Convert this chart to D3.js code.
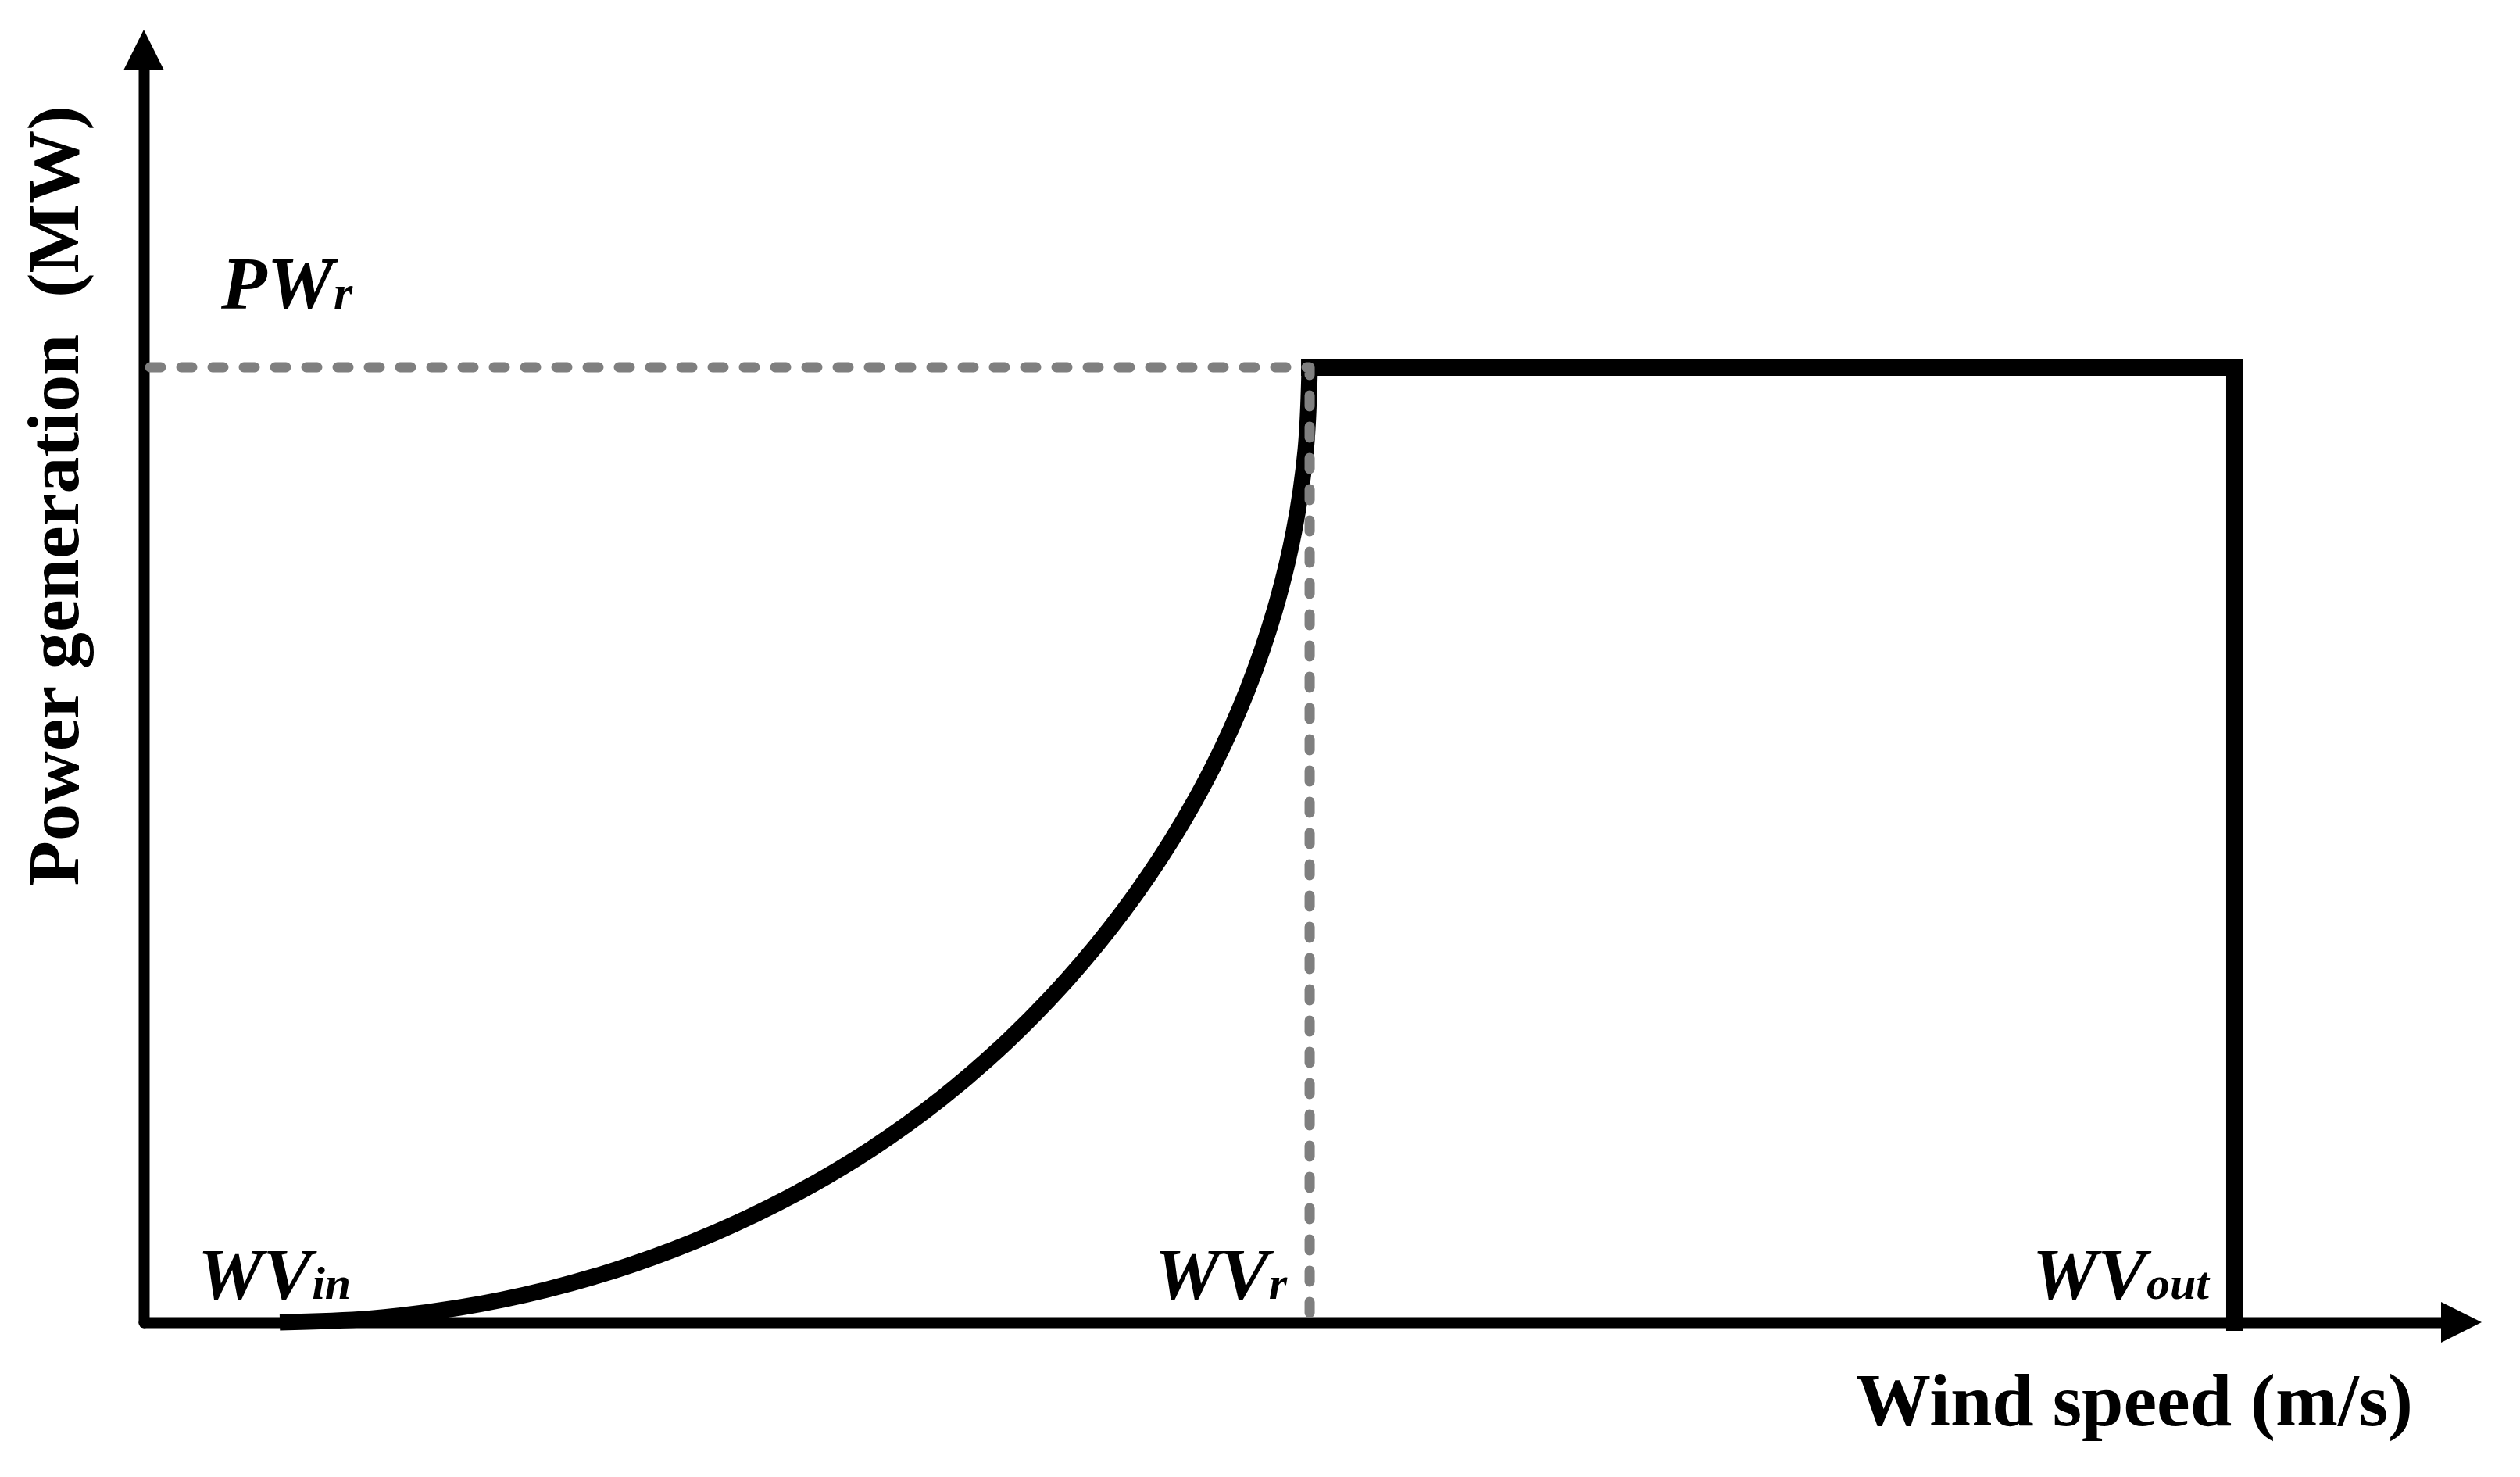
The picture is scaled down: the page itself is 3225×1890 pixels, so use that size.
<!DOCTYPE html>
<html>
<head>
<meta charset="utf-8">
<script src="https://cdn.jsdelivr.net/npm/d3@7"></script>
<style>
  html, body { margin: 0; padding: 0; background: #ffffff; }
  svg { display: block; }
  text { font-family: "Liberation Serif", "Times New Roman", serif; fill: #000; }
</style>
</head>
<body>
<svg id="chart" width="3225" height="1890"></svg>
<script>
// ---- data (relative units, 0-100 on each axis) ----
const windSpeed = [5.92, 9.83, 13.70, 17.52, 21.25, 24.86, 28.33, 31.63, 34.73, 37.62, 40.26, 42.64, 44.74, 46.55, 48.04, 49.22, 50.07, 50.58, 50.75];
const powerOut  = [0.00, 0.29, 1.16, 2.60, 4.60, 7.15, 10.22, 13.80, 17.90, 22.50, 27.50, 32.85, 38.50, 44.40, 50.50, 56.80, 63.20, 69.70, 76.28];
const speedMarks = [5.92, 50.75, 91.02];           // WVin, WVr, WVout
const speedNames = [["WV", "in"], ["WV", "r"], ["WV", "out"]];
const ratedPower = 76.28;                          // PWr
const powerName = ["PW", "r"];
const xTitle = "Wind speed (m/s)";
const yTitle = "Power generation \u00A0(MW)";

// ---- layout ----
const W = 3225, H = 1890;
const svg = d3.select("#chart");
svg.append("rect").attr("width", W).attr("height", H).attr("fill", "#fff");

const x = d3.scaleLinear().domain([0, 100]).range([184, 3124]);
const y = d3.scaleLinear().domain([0, 100]).range([1692, 90]);
const arrowLen = 52, arrowHalf = 26;

// axes (domain lines only)
svg.append("g").attr("transform", `translate(0,${y(0)})`)
  .call(d3.axisBottom(x).tickValues([]).tickSizeOuter(0));
svg.append("g").attr("transform", `translate(${x(0)},0)`)
  .call(d3.axisLeft(y).tickValues([]).tickSizeOuter(0));
svg.selectAll(".domain")
  .attr("stroke", "#000").attr("stroke-width", 14).attr("stroke-linecap", "round");

// arrowheads
svg.append("path")
  .attr("d", `M${x(0)},${y(100) - arrowLen} L${x(0) - arrowHalf},${y(100)} L${x(0) + arrowHalf},${y(100)} Z`)
  .attr("fill", "#000");
svg.append("path")
  .attr("d", `M${x(100) + arrowLen},${y(0)} L${x(100)},${y(0) - arrowHalf} L${x(100)},${y(0) + arrowHalf} Z`)
  .attr("fill", "#000");

// power curve (cut-in to rated)
const curvePts = windSpeed.map((v, i) => [v, powerOut[i]]);
const line = d3.line().x(d => x(d[0])).y(d => y(d[1])).curve(d3.curveCatmullRom.alpha(0.5));
svg.append("path").datum(curvePts)
  .attr("d", line)
  .attr("fill", "none").attr("stroke", "#000").attr("stroke-width", 21)
  .attr("stroke-linecap", "butt");

// rated segment and cut-out drop
const ratedPts = [[speedMarks[1], ratedPower], [speedMarks[2], ratedPower], [speedMarks[2], 0]];
svg.append("path").datum(ratedPts)
  .attr("d", d3.line().x(d => x(d[0])).y(d => y(d[1])))
  .attr("fill", "none").attr("stroke", "#000").attr("stroke-width", 22)
  .attr("stroke-linejoin", "miter").attr("stroke-linecap", "square");

// dashed guide lines
const guidePts = [[0, ratedPower], [speedMarks[1], ratedPower], [speedMarks[1], 0]];
svg.append("path").datum(guidePts)
  .attr("d", d3.line().x(d => x(d[0])).y(d => y(d[1])))
  .attr("fill", "none").attr("stroke", "#7f7f7f").attr("stroke-width", 13)
  .attr("stroke-dasharray", "14 26").attr("stroke-dashoffset", -8)
  .attr("stroke-linecap", "round").attr("stroke-linejoin", "round");

// labels on x axis
const labelY = y(0) - 30;
const anchors = ["middle", "end", "end"];
const offsets = [-7, -29, -33];
speedMarks.forEach((v, i) => {
  const t = svg.append("text")
    .attr("x", x(v) + offsets[i]).attr("y", labelY)
    .attr("text-anchor", anchors[i])
    .attr("font-style", "italic").attr("font-weight", "bold");
  t.append("tspan").attr("font-size", 94).text(speedNames[i][0]);
  t.append("tspan").attr("font-size", 60).text(speedNames[i][1]);
});

// PWr label
const pt = svg.append("text")
  .attr("x", 283).attr("y", y(ratedPower) - 75)
  .attr("font-style", "italic").attr("font-weight", "bold");
pt.append("tspan").attr("font-size", 96).text(powerName[0]);
pt.append("tspan").attr("font-size", 62).text(powerName[1]);

// axis titles
svg.append("text")
  .attr("x", 3088).attr("y", 1824)
  .attr("text-anchor", "end")
  .attr("font-weight", "bold").attr("font-size", 96)
  .text(xTitle);

svg.append("text")
  .attr("transform", `translate(100,${(132 + 1137) / 2}) rotate(-90)`)
  .attr("text-anchor", "middle")
  .attr("font-weight", "bold").attr("font-size", 94)
  .text(yTitle);
</script>
</body>
</html>
